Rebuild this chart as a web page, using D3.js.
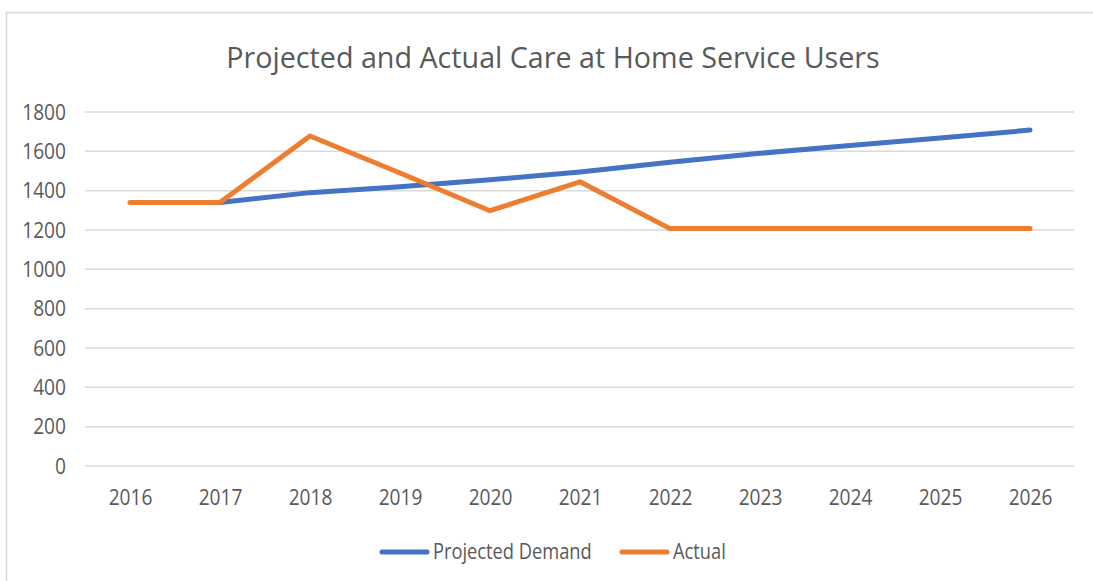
<!DOCTYPE html>
<html><head><meta charset="utf-8">
<script src="https://cdn.jsdelivr.net/npm/d3@7"></script>
<style>
html,body{margin:0;padding:0;background:#fff;}
svg text{font-family:"Open Sans","Noto Sans",sans-serif;fill:#595959;}
</style></head>
<body><svg id="c" width="1093" height="581"></svg>
<script>
const years = ["2016","2017","2018","2019","2020","2021","2022","2023","2024","2025","2026"];
const projected = [null,1340,1390,1420,1455,1495,1545,1590,1630,1668,1708];
const actual = [1340,1340,1678,1490,1298,1445,1207,1207,1207,1207,1207];
const yTicks = [0,200,400,600,800,1000,1200,1400,1600,1800];
const seriesNames = ["Projected Demand","Actual"];
const colors = ["#4472C4","#ED7D31"];
const SX = 0.87;

const svg = d3.select("#c");
// outer border
svg.append("rect").attr("x",6.5).attr("y",12.5).attr("width",1200).attr("height",700)
  .attr("fill","none").attr("stroke","#D9D9D9").attr("stroke-width",1.5);

svg.append("text").attr("x",553).attr("y",68).attr("text-anchor","middle")
  .style("font-size","28.7px").text("Projected and Actual Care at Home Service Users");

const x = d3.scalePoint().domain(years).range([85,1075]).padding(0.5);
const y = d3.scaleLinear().domain([0,1800]).range([466,112]);

const grid = svg.append("g");
grid.selectAll("line").data(yTicks).join("line")
  .attr("x1",85).attr("x2",1074).attr("y1",d=>y(d)).attr("y2",d=>y(d))
  .attr("stroke","#D9D9D9").attr("stroke-width",1.5);

const yAxis = svg.append("g").attr("transform","translate(66,0)")
  .call(d3.axisLeft(y).tickValues(yTicks).tickFormat(d3.format("d")).tickSize(0).tickPadding(0));
yAxis.select(".domain").remove();
yAxis.selectAll("text").style("font-size","22px").attr("fill","#595959")
  .attr("transform",`scale(${SX},1)`).attr("x",0);

const xAxis = svg.append("g").attr("transform","translate(0,505)")
  .call(d3.axisBottom(x).tickSize(0).tickPadding(0));
xAxis.select(".domain").remove();
xAxis.selectAll("text").style("font-size","22px").attr("fill","#595959")
  .attr("dy","0").attr("y",0).attr("transform",`scale(${SX},1)`);

const data = [projected, actual];
data.forEach((vals,i)=>{
  const line = d3.line().defined(d=>d!=null).x((d,j)=>x(years[j])).y(d=>y(d));
  svg.append("path").datum(vals).attr("d",line).attr("fill","none")
    .attr("stroke",colors[i]).attr("stroke-width",5).attr("stroke-linecap","round").attr("stroke-linejoin","round");
});

// legend
const legX = [382,622];
seriesNames.forEach((n,i)=>{
  const g = svg.append("g").attr("transform",`translate(${legX[i]},552)`);
  g.append("line").attr("x1",0).attr("x2",45).attr("stroke",colors[i]).attr("stroke-width",5).attr("stroke-linecap","round");
  g.append("text").attr("transform",`translate(51,6.5) scale(${SX},1)`).style("font-size","21px").text(n);
});
</script></body></html>
